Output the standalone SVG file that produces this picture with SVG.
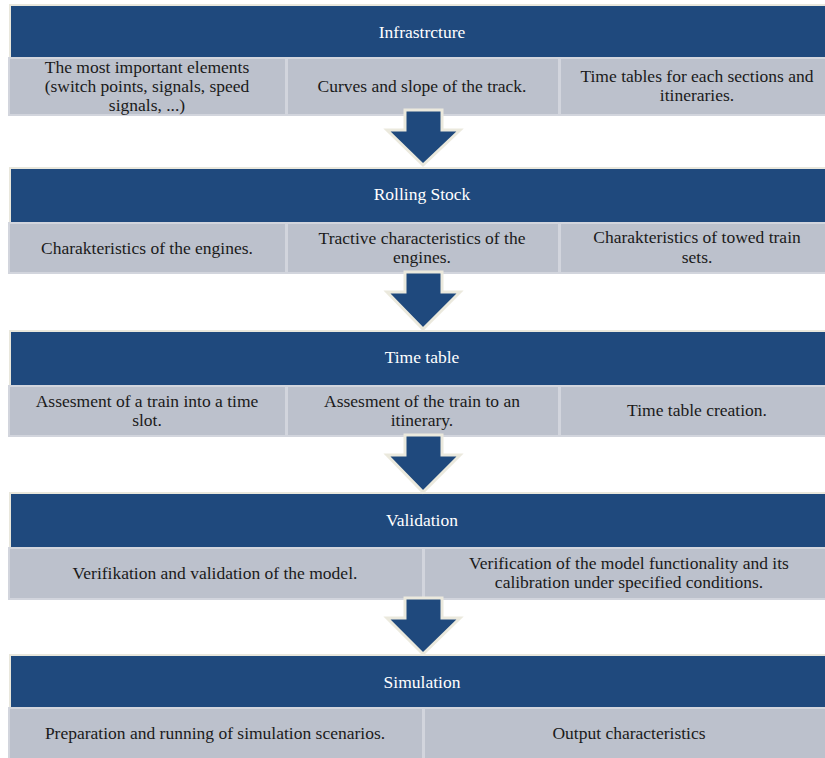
<svg xmlns="http://www.w3.org/2000/svg" width="825" height="758" viewBox="0 0 825 758">
<rect width="825" height="758" fill="#ffffff"/>

<g id="infrastructure">
<rect x="10" y="5" width="825" height="53" fill="#1f497d" stroke="#e9e7dc" stroke-width="2"/>
<g fill="#bcc1cc" stroke="#d2d5dd" stroke-width="2">
<rect x="9" y="58" width="277" height="57"/>
<rect x="287" y="58" width="272" height="57"/>
<rect x="560" y="58" width="275" height="57"/>
</g>
<g font-family="'Liberation Serif', Tinos, 'Times New Roman', serif" font-size="17.5" text-anchor="middle" fill="#1a1a1a">
<text x="422" y="38" fill="#ffffff">Infrastrcture</text>
<text x="147" y="73">The most important elements</text>
<text x="147" y="92">(switch points, signals, speed</text>
<text x="147" y="111">signals, ...)</text>
<text x="422" y="92">Curves and slope of the track.</text>
<text x="697" y="82">Time tables for each sections and</text>
<text x="697" y="101">itineraries.</text>
</g>
</g>

<g id="rolling-stock">
<rect x="10" y="168" width="825" height="55" fill="#1f497d" stroke="#e9e7dc" stroke-width="2"/>
<g fill="#bcc1cc" stroke="#d2d5dd" stroke-width="2">
<rect x="9" y="223" width="277" height="50"/>
<rect x="287" y="223" width="272" height="50"/>
<rect x="560" y="223" width="275" height="50"/>
</g>
<g font-family="'Liberation Serif', Tinos, 'Times New Roman', serif" font-size="17.5" text-anchor="middle" fill="#1a1a1a">
<text x="422" y="200" fill="#ffffff">Rolling Stock</text>
<text x="147" y="254">Charakteristics of the engines.</text>
<text x="422" y="244">Tractive characteristics of the</text>
<text x="422" y="263">engines.</text>
<text x="697" y="243">Charakteristics of towed train</text>
<text x="697" y="263">sets.</text>
</g>
</g>

<g id="time-table">
<rect x="10" y="331" width="825" height="55" fill="#1f497d" stroke="#e9e7dc" stroke-width="2"/>
<g fill="#bcc1cc" stroke="#d2d5dd" stroke-width="2">
<rect x="9" y="386" width="277" height="50"/>
<rect x="287" y="386" width="272" height="50"/>
<rect x="560" y="386" width="275" height="50"/>
</g>
<g font-family="'Liberation Serif', Tinos, 'Times New Roman', serif" font-size="17.5" text-anchor="middle" fill="#1a1a1a">
<text x="422" y="363" fill="#ffffff">Time table</text>
<text x="147" y="407">Assesment of a train into a time</text>
<text x="147" y="426">slot.</text>
<text x="422" y="407">Assesment of the train to an</text>
<text x="422" y="426">itinerary.</text>
<text x="697" y="416">Time table creation.</text>
</g>
</g>

<g id="validation">
<rect x="10" y="493" width="825" height="55" fill="#1f497d" stroke="#e9e7dc" stroke-width="2"/>
<g fill="#bcc1cc" stroke="#d2d5dd" stroke-width="2">
<rect x="9" y="548" width="414" height="51"/>
<rect x="424" y="548" width="411" height="51"/>
</g>
<g font-family="'Liberation Serif', Tinos, 'Times New Roman', serif" font-size="17.5" text-anchor="middle" fill="#1a1a1a">
<text x="422" y="526" fill="#ffffff">Validation</text>
<text x="215" y="579">Verifikation and validation of the model.</text>
<text x="629" y="569">Verification of the model functionality and its</text>
<text x="629" y="588">calibration under specified conditions.</text>
</g>
</g>

<g id="simulation">
<rect x="10" y="655" width="825" height="53" fill="#1f497d" stroke="#e9e7dc" stroke-width="2"/>
<g fill="#bcc1cc" stroke="#d2d5dd" stroke-width="2">
<rect x="9" y="708" width="414" height="55"/>
<rect x="424" y="708" width="411" height="55"/>
</g>
<g font-family="'Liberation Serif', Tinos, 'Times New Roman', serif" font-size="17.5" text-anchor="middle" fill="#1a1a1a">
<text x="422" y="688" fill="#ffffff">Simulation</text>
<text x="215" y="739">Preparation and running of simulation scenarios.</text>
<text x="629" y="739">Output characteristics</text>
</g>
</g>

<g id="connectors" fill="#1f497d" stroke="#ebe9dd" stroke-width="3" stroke-linejoin="miter">
<polygon points="405,110 442,110 442,130 460,130 423,165 387,130 405,130"/>
<polygon points="405,272 442,272 442,292 460,292 423,329 387,292 405,292"/>
<polygon points="405,435 442,435 442,455 460,455 423,492 387,455 405,455"/>
<polygon points="405,598 442,598 442,618 460,618 423,654 387,618 405,618"/>
</g>
</svg>
